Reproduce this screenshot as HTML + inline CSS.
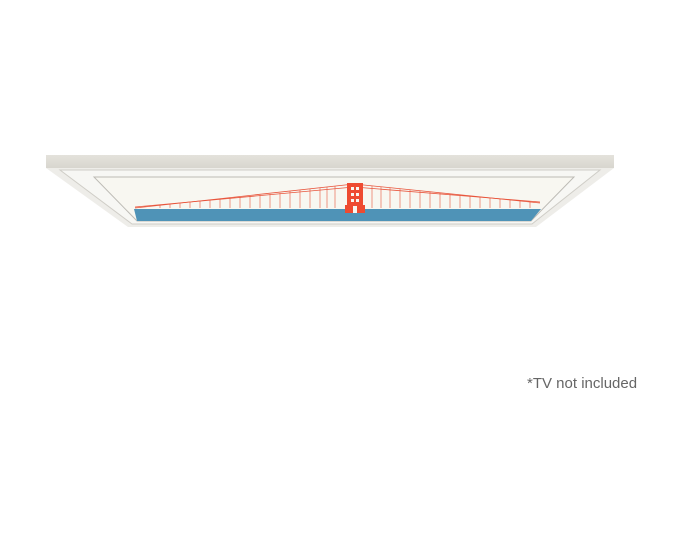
<!DOCTYPE html>
<html><head><style>
html,body{margin:0;padding:0;background:#fff;width:684px;height:547px;overflow:hidden}
.t{position:absolute;left:527px;top:375px;font:15px "Liberation Sans",sans-serif;color:#666}
</style></head><body>
<svg width="684" height="547" style="position:absolute;left:0;top:0">
<defs><linearGradient id="f" x1="0" y1="0" x2="0" y2="1"><stop offset="0" stop-color="#e4e2dc"/><stop offset="1" stop-color="#d8d6cf"/></linearGradient></defs>
<!-- top face -->
<rect x="46" y="155" width="568" height="13" fill="url(#f)"/>
<!-- lower frame -->
<polygon points="46,168 614,168 536,227 128,227" fill="#eeede9"/>
<polygon points="60,170 600,170 532,224 132,224" fill="#f7f7f4" stroke="#cfcdc7" stroke-width="1"/>
<!-- screen -->
<polygon points="94,177 574,177 531,221 137,221" fill="#f8f7f1" stroke="#bdbbb5" stroke-width="1"/>
<polygon points="134,209 541,209 531,221 137,221" fill="#4f93b7"/>
<!-- bridge cables -->
<g stroke="#e8553c" stroke-width="0.8" fill="none">
<path d="M135,208 L354,184 L540,203"/>
<path d="M135,207 L354,187 L540,202"/>
</g>
<g stroke="#e8553c" stroke-width="0.6">
<path d="M160,205v3M180,203v5M200,201v7M220,199v9M240,197v11M260,195v13M280,193v15M300,190v18M320,188v20M335,186v22M372,186v22M390,188v20M410,190v18M430,192v16M450,194v14M470,196v12M490,198v10M510,200v8M530,202v6"/>
<path d="M170,204v4M190,202v6M210,200v8M230,198v10M250,196v12M270,194v14M290,191v17M310,189v19M327,187v21M381,187v21M400,189v19M420,191v17M440,193v15M460,195v13M480,197v11M500,199v9M520,201v7"/>
</g>
<!-- tower -->
<rect x="347" y="183" width="16" height="30" fill="#ee4b31"/>
<rect x="345" y="205" width="20" height="8" fill="#ee4b31"/>
<g fill="#f8f7f1"><rect x="351" y="187" width="3" height="3"/><rect x="356" y="187" width="3" height="3"/><rect x="351" y="193" width="3" height="3"/><rect x="356" y="193" width="3" height="3"/><rect x="351" y="199" width="3" height="3"/><rect x="356" y="199" width="3" height="3"/><rect x="353" y="206" width="4" height="7"/></g>
</svg>
<div class="t">*TV not included</div>
</body></html>
